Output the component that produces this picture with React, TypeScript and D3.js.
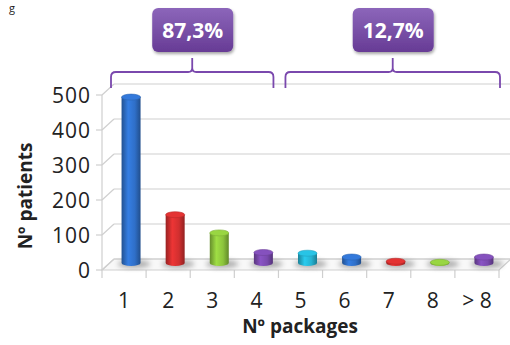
import React from "react";
import * as d3 from "d3";

const categories = ["1", "2", "3", "4", "5", "6", "7", "8", "> 8"];
const patients = [474, 138, 86, 30, 28, 17, 5, 2, 17];
const barColors = ["#2f6fc8", "#d12f2f", "#8cc43c", "#7a4aae", "#25b3d2", "#2f6fc8", "#d12f2f", "#8cc43c", "#7a4aae"];
const yTicks = [0, 100, 200, 300, 400, 500];
const groups = [
  { label: "87,3%", from: 0, to: 3 },
  { label: "12,7%", from: 4, to: 8 },
];

const W = 510;
const H = 345;
const DX = 12;
const DY = -11;
const FONT = "'Open Sans', 'DejaVu Sans', sans-serif";

export default function App() {
  const x = d3.scaleBand<string>().domain(categories).range([102, 499]).padding(0);
  const y = d3.scaleLinear().domain([0, 500]).range([270, 95]);
  const bw = x.bandwidth();
  const grid = "#cfcfcf";
  const barW = 19;
  const ry = 3;
  // bars stand in the middle of the floor depth
  const lift = DY / 2 - 1.5;

  const shade = (c: string, k: number) => d3.color(c)!.darker(k).formatHex();
  const light = (c: string, k: number) => d3.color(c)!.brighter(k).formatHex();

  return (
    <svg width={W} height={H} style={{ position: "absolute", left: 0, top: 0, background: "#fff" }}>
      <defs>
        {barColors.map((c, i) => (
          <linearGradient key={i} id={`cyl${i}`} x1="0" x2="1" y1="0" y2="0">
            <stop offset="0%" stopColor={shade(c, 0.9)} />
            <stop offset="35%" stopColor={light(c, 0.35)} />
            <stop offset="70%" stopColor={c} />
            <stop offset="100%" stopColor={shade(c, 1.0)} />
          </linearGradient>
        ))}
        <linearGradient id="boxg" x1="0" x2="0" y1="0" y2="1">
          <stop offset="0%" stopColor="#8c66ba" />
          <stop offset="100%" stopColor="#673b95" />
        </linearGradient>
        <filter id="blur" x="-50%" y="-100%" width="200%" height="300%">
          <feGaussianBlur stdDeviation="2.5" />
        </filter>
        <filter id="boxshadow" x="-20%" y="-20%" width="140%" height="150%">
          <feDropShadow dx="1" dy="2" stdDeviation="1.5" floodColor="#000" floodOpacity="0.35" />
        </filter>
      </defs>

      {/* heading fragment at the top edge */}
      <text x={9} y={12} fontFamily={FONT} fontSize={11} fill="#222">g</text>

      {/* floor */}
      <polygon
        points={`102,${y(0)} 499,${y(0)} ${499 + DX},${y(0) + DY} ${102 + DX},${y(0) + DY}`}
        fill="#f8f8f8"
        stroke={grid}
        strokeWidth={1.2}
      />

      {/* back wall gridlines and side wall diagonals */}
      {yTicks.map((t) => (
        <g key={t}>
          <line x1={102 + DX} x2={W} y1={y(t) + DY} y2={y(t) + DY} stroke={grid} strokeWidth={1.2} />
          <line x1={102} x2={102 + DX} y1={y(t)} y2={y(t) + DY} stroke={grid} strokeWidth={1.2} />
          <line x1={96} x2={102} y1={y(t)} y2={y(t)} stroke={grid} strokeWidth={1.2} />
          <text x={91} y={y(t)} dy="0.36em" textAnchor="end" fontFamily={FONT} fontSize={21} fill="#222" letterSpacing={1}>
            {t}
          </text>
        </g>
      ))}
      <line x1={102} x2={102} y1={y(500)} y2={y(0)} stroke={grid} strokeWidth={1.2} />

      {/* x ticks and labels */}
      {categories.map((c) => (
        <line key={"t" + c} x1={x(c)!} x2={x(c)!} y1={y(0)} y2={y(0) + 8} stroke={grid} strokeWidth={1.2} />
      ))}
      <line x1={499} x2={499} y1={y(0)} y2={y(0) + 8} stroke={grid} strokeWidth={1.2} />
      {categories.map((c) => (
        <text key={"l" + c} x={x(c)! + bw / 2} y={308} textAnchor="middle" fontFamily={FONT} fontSize={21} fill="#222">
          {c}
        </text>
      ))}

      {/* bars as cylinders */}
      {categories.map((c, i) => {
        const cx = x(c)! + bw / 2 + DX / 2 + 1;
        const base = y(0) + lift;
        const top = y(patients[i]) + lift;
        const col = barColors[i];
        return (
          <g key={"b" + c}>
            <ellipse cx={cx + 3} cy={base + 1} rx={barW * 0.85} ry={4} fill="#555" opacity={0.45} filter="url(#blur)" />
            <path
              d={`M${cx - barW / 2},${top} L${cx - barW / 2},${base} A${barW / 2},${ry} 0 0 0 ${cx + barW / 2},${base} L${cx + barW / 2},${top} Z`}
              fill={`url(#cyl${i})`}
            />
            <ellipse cx={cx} cy={top} rx={barW / 2} ry={ry} fill={light(col, 0.25)} stroke={shade(col, 0.3)} strokeWidth={0.6} />
          </g>
        );
      })}

      {/* brackets and percentage boxes */}
      {groups.map((g, i) => {
        const left = x(categories[g.from])! + (i === 0 ? 9 : 7);
        const right = x(categories[g.to])! + bw + (i === 0 ? -5 : 1);
        const mid = (left + right) / 2;
        const hy = 72;
        const by = 88;
        const r = 5;
        const d = `M${left},${by} L${left},${hy + r} Q${left},${hy} ${left + r},${hy} L${mid - 4},${hy} Q${mid},${hy} ${mid},${hy - 4} L${mid},58 M${mid},${hy - 4} Q${mid},${hy} ${mid + 4},${hy} L${right - r},${hy} Q${right},${hy} ${right},${hy + r} L${right},${by}`;
        return (
          <g key={g.label}>
            <path d={d} fill="none" stroke="#7a48ad" strokeWidth={1.8} />
            <rect x={mid - 40} y={8} width={81} height={44} rx={6} fill="url(#boxg)" filter="url(#boxshadow)" />
            <text x={mid + 0.5} y={30} dy="0.36em" textAnchor="middle" fontFamily={FONT} fontWeight="bold" fontSize={21} fill="#fff">
              {g.label}
            </text>
          </g>
        );
      })}

      {/* axis titles */}
      <text
        transform={`translate(32,196) rotate(-90)`}
        textAnchor="middle"
        fontFamily={FONT}
        fontWeight="bold"
        fontSize={19}
        fill="#222"
      >
        Nº patients
      </text>
      <text x={300} y={333} textAnchor="middle" fontFamily={FONT} fontWeight="bold" fontSize={19} fill="#222">
        Nº packages
      </text>
    </svg>
  );
}
